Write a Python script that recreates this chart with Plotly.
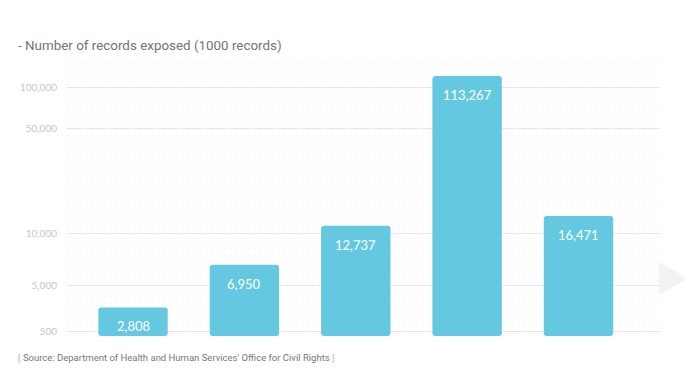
import numpy as np
import plotly.graph_objects as go

# ---- data ----
categories = ["Bar 1", "Bar 2", "Bar 3", "Bar 4", "Bar 5"]
records_k = [2808, 6950, 12737, 113267, 16471]
value_labels = ["2,808", "6,950", "12,737", "113,267", "16,471"]

# y-axis: tick values and labels (custom, non-uniform scale as in the source)
tick_values = [500, 5000, 10000, 50000, 100000]
tick_labels = ["500", "5,000", "10,000", "50,000", "100,000"]

# ---- custom piecewise scale (display position of each tick) ----
tick_pos = np.array([0, 46, 98, 203, 244], dtype=float)
tv = np.array(tick_values, dtype=float)


def to_axis(v):
    v = float(v)
    if v > tv[-1]:
        slope = (tick_pos[-1] - tick_pos[-2]) / (tv[-1] - tv[-2])
        return tick_pos[-1] + (v - tv[-1]) * slope
    return float(np.interp(v, tv, tick_pos))


y_disp = [to_axis(v) for v in records_k]
BASE = -5

fig = go.Figure()
fig.add_trace(go.Bar(
    x=categories,
    y=[y - BASE for y in y_disp],
    base=BASE,
    width=0.623,
    marker=dict(color="#64c9e0", line=dict(width=0)),
    hoverinfo="skip",
))

for c, y, lab in zip(categories, y_disp, value_labels):
    fig.add_annotation(
        x=c, y=y, text=lab, showarrow=False, yanchor="middle", yshift=-19,
        font=dict(family="Lato, Noto Sans, sans-serif", size=13, color="white"),
    )

minor_vals = list(np.arange(-2, 270, 6.0))

# page body has an 8px default margin: positions below are compensated for it
fig.update_layout(
    width=692, height=384,
    margin=dict(l=54, r=40, t=47, b=56),
    plot_bgcolor="white", paper_bgcolor="white",
    barcornerradius=3,
    showlegend=False,
    title=dict(
        text="- Number of records exposed (1000 records)",
        xref="container", yref="container", x=10 / 692, y=1 - 37 / 384,
        xanchor="left", yanchor="middle",
        font=dict(family="Roboto, Noto Sans, sans-serif", size=13.4, color="#737373"),
    ),
    xaxis=dict(
        range=[-0.593, 4.732], showticklabels=False, showgrid=False,
        zeroline=False, showline=False, ticks="",
    ),
    yaxis=dict(
        range=[-5, 276],
        tickvals=list(tick_pos), ticktext=tick_labels,
        showgrid=True, gridcolor="#e6e6e6", gridwidth=1,
        zeroline=False, showline=False,
        ticks="outside", ticklen=7, tickcolor="rgba(0,0,0,0)",
        tickfont=dict(family="Lato, Noto Sans, sans-serif", size=10, color="#c6c6c6"),
        minor=dict(tickvals=minor_vals, showgrid=True, gridcolor="#f7f7f7",
                   griddash="dot", gridwidth=1),
    ),
)

fig.add_annotation(
    xref="paper", yref="paper", x=(11 - 62) / 598, y=(336 - 357) / 281,
    xanchor="left", yanchor="middle", showarrow=False,
    text="<span style='color:#f2a98c'>[</span> Source: Department of Health and Human Services' Office for Civil Rights <span style='color:#f2a98c'>]</span>",
    font=dict(family="Liberation Sans Narrow, Roboto, sans-serif", size=9.5, color="#777777"),
)

fig.add_shape(
    type="path", xref="paper", yref="paper",
    path="M 0.998 0.263 L 1.047 0.205 L 0.998 0.146 Z",
    fillcolor="#f3f3f3", line=dict(width=0), layer="below",
)

fig.write_html("out.html")
